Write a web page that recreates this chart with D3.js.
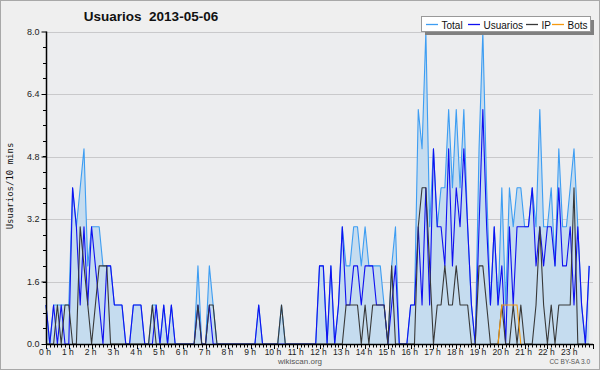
<!DOCTYPE html>
<html>
<head>
<meta charset="utf-8">
<script src="https://cdn.jsdelivr.net/npm/d3@7/dist/d3.min.js"></script>
<style>
body { margin: 0; background: #fff }
svg { display: block }
</style>
</head>
<body>
<svg id="svg" width="600" height="370"></svg>
<script>
// users per 10 minutes, 2013-05-06, one row per hour
var hourLabels = d3.range(24).map(function (h) { return h + " h" })
var yTicks = [0, 1.6, 3.2, 4.8, 6.4, 8.0]

var total = [
	1,0,1,1,1,1,  1,4,3,4,5,2,  3,3,3,2,2,2,  1,1,1,0,0,1,
	1,1,0,0,1,1,  0,1,0,1,0,0,  0,0,0,0,2,0,  0,2,1,0,0,0,
	0,0,0,0,0,0,  0,0,1,0,0,0,  0,0,1,0,0,0,  0,0,0,0,0,0,
	2,2,0,2,0,1,  3,2,2,3,3,2,  3,2,2,2,2,1,  0,2,3,0,0,0,
	1,1,6,5,8,3,  5,3,4,4,6,4,  6,4,6,3,1,0,  5,8,4,1,3,1,
	4,1,4,3,4,4,  3,3,4,3,6,3,  3,4,2,5,3,3,  4,5,3,1,0,2
]
var usuarios = [
	1,0,1,0,1,0,  0,4,3,1,3,1,  3,2,1,0,2,2,  1,1,1,0,0,1,
	1,1,0,0,0,1,  0,1,0,1,0,0,  0,0,0,0,1,0,  0,1,0,0,0,0,
	0,0,0,0,0,0,  0,0,1,0,0,0,  0,0,0,0,0,0,  0,0,0,0,0,0,
	2,2,0,2,0,1,  3,1,1,2,2,1,  2,2,2,1,1,1,  0,1,2,0,0,0,
	1,1,3,1,4,1,  5,3,3,2,5,2,  4,3,5,3,1,0,  3,6,3,1,3,1,
	2,0,3,1,3,3,  3,3,4,2,3,2,  3,3,2,4,2,2,  3,1,3,1,0,2
]
var ip = [
	0,0,0,1,0,1,  1,0,0,3,2,1,  0,1,2,2,2,0,  0,0,0,0,0,0,
	0,0,0,0,1,0,  0,0,0,0,0,0,  0,0,0,0,1,0,  0,1,1,0,0,0,
	0,0,0,0,0,0,  0,0,0,0,0,0,  0,0,1,0,0,0,  0,0,0,0,0,0,
	0,0,0,0,0,0,  0,1,1,1,1,0,  1,0,1,1,1,1,  0,2,0,0,0,0,
	0,0,3,4,4,2,  0,1,1,2,1,1,  2,1,1,1,0,0,  2,2,1,0,0,0,
	1,0,0,1,0,1,  0,0,0,1,3,1,  0,1,0,1,1,1,  1,4,0,0,0,0
]
var bots = [
	0,0,0,0,0,0,  0,0,0,0,0,0,  0,0,0,0,0,0,  0,0,0,0,0,0,
	0,0,0,0,0,0,  0,0,0,0,0,0,  0,0,0,0,0,0,  0,0,0,0,0,0,
	0,0,0,0,0,0,  0,0,0,0,0,0,  0,0,0,0,0,0,  0,0,0,0,0,0,
	0,0,0,0,0,0,  0,0,0,0,0,0,  0,0,0,0,0,0,  0,0,0,0,0,0,
	0,0,0,0,0,0,  0,0,0,0,0,0,  0,0,0,0,0,0,  0,0,0,0,0,0,
	1,1,1,1,1,0,  0,0,0,0,0,0,  0,0,0,0,0,0,  0,0,0,0,0,0
]

var series = [
	{name: "Total", values: total, color: "#3d9df2"},
	{name: "Usuarios", values: usuarios, color: "#1010f0"},
	{name: "IP", values: ip, color: "#383838"},
	{name: "Bots", values: bots, color: "#f59a10"}
]

var svg = d3.select("#svg")
var W = 600, H = 370
var pl = 46, pr = 593, pt = 31.5, pb = 344   // plot box

svg.append("rect").attr("width", W).attr("height", H).attr("fill", "#efefef")
svg.append("rect").attr("x", 0.5).attr("y", 0.5).attr("width", W - 1).attr("height", H - 1)
	.attr("fill", "none").attr("stroke", "#a8a8a8")
svg.append("rect").attr("x", pl).attr("y", pt).attr("width", pr - pl).attr("height", pb - pt)
	.attr("fill", "#ecedef")

var x = d3.scaleLinear().domain([0, 144]).range([pl, pr])
var y = d3.scaleLinear().domain([0, 8]).range([pb, pt])

// grid
svg.append("g").selectAll("line").data(yTicks.slice(1)).enter().append("line")
	.attr("x1", pl).attr("x2", pr)
	.attr("y1", function (d) { return Math.round(y(d)) + 0.5 })
	.attr("y2", function (d) { return Math.round(y(d)) + 0.5 })
	.attr("stroke", "#c9c9cb").attr("stroke-width", 1)

// total area
var area = d3.area()
	.x(function (d, i) { return x(i) })
	.y0(y(0))
	.y1(function (d) { return y(d) })
svg.append("path").datum(total).attr("d", area)
	.attr("fill", "#c5dcef")

var line = d3.line()
	.x(function (d, i) { return x(i) })
	.y(function (d) { return y(d) })

series.forEach(function (s) {
	var vals = s.values
	if (s.name == "Bots") {
		// only draw the stretch where bots appear
		var first = vals.findIndex(function (v) { return v > 0 }) - 1
		var last = vals.length - 1 - vals.slice().reverse().findIndex(function (v) { return v > 0 }) + 1
		svg.append("path").datum(vals.slice(first, last + 1))
			.attr("d", d3.line().x(function (d, i) { return x(i + first) }).y(function (d) { return y(d) }))
			.attr("fill", "none").attr("stroke", s.color).attr("stroke-width", 1.1)
		return
	}
	svg.append("path").datum(vals).attr("d", line)
		.attr("fill", "none").attr("stroke", s.color).attr("stroke-width", 1.1)
		.attr("stroke-linejoin", "round")
})

// y axis
var yAxis = d3.axisLeft(y).tickValues(yTicks).tickFormat(d3.format(".1f")).tickSize(5).tickPadding(2)
var gy = svg.append("g").attr("transform", "translate(" + (pl + 0.5) + ",0)").call(yAxis)
gy.select(".domain").remove()
gy.selectAll("text").style("font-family", "Liberation Sans").style("font-size", "9px").attr("fill", "#222")
gy.selectAll("line").attr("stroke", "#000")
svg.append("g").selectAll("line").data(d3.range(0, 8, 0.4)).enter().append("line")
	.attr("x1", pl - 3).attr("x2", pl)
	.attr("y1", function (d) { return Math.round(y(d)) + 0.5 })
	.attr("y2", function (d) { return Math.round(y(d)) + 0.5 })
	.attr("stroke", "#000")
svg.append("line").attr("x1", pl + 0.5).attr("x2", pl + 0.5).attr("y1", pt).attr("y2", pb + 1)
	.attr("stroke", "#000").attr("stroke-width", 1.5)

// x axis
svg.append("line").attr("x1", pl).attr("x2", pr).attr("y1", pb + 0.5).attr("y2", pb + 0.5)
	.attr("stroke", "#000").attr("stroke-width", 1.5)
svg.append("g").selectAll("line").data(d3.range(0, 145)).enter().append("line")
	.attr("x1", function (d) { return Math.round(x(d)) + 0.5 })
	.attr("x2", function (d) { return Math.round(x(d)) + 0.5 })
	.attr("y1", pb).attr("y2", function (d) { return pb + (d % 6 == 0 ? 5 : 3.5) })
	.attr("stroke", "#000")
svg.append("g").selectAll("text").data(hourLabels).enter().append("text")
	.attr("x", function (d, i) { return x(i * 6) - 1 })
	.attr("y", pb + 11)
	.attr("text-anchor", "middle")
	.style("font-family", "Liberation Sans").style("font-size", "8.5px").attr("fill", "#222")
	.text(function (d) { return d })

// titles
svg.append("text").attr("x", 151).attr("y", 21).attr("text-anchor", "middle")
	.style("font-family", "Liberation Sans").style("font-size", "13.5px").style("font-weight", "bold")
	.style("white-space", "pre")
	.attr("fill", "#111").text("Usuarios  2013-05-06")
svg.append("text").attr("transform", "translate(13,186) rotate(-90)").attr("text-anchor", "middle")
	.style("font-family", "DejaVu Sans Mono").style("font-size", "9px").attr("fill", "#111")
	.text("Usuarios/10 mins")
svg.append("text").attr("x", 300).attr("y", 364).attr("text-anchor", "middle")
	.style("font-family", "Liberation Sans").style("font-size", "8px").attr("fill", "#555")
	.text("wikiscan.org")
svg.append("text").attr("x", 590).attr("y", 364).attr("text-anchor", "end")
	.style("font-family", "Liberation Sans").style("font-size", "6.5px").attr("fill", "#555")
	.text("CC BY-SA 3.0")

// legend
var lg = svg.append("g")
lg.append("rect").attr("x", 425).attr("y", 20).attr("width", 169).attr("height", 15).attr("fill", "#808080")
lg.append("rect").attr("x", 421.5).attr("y", 16.5).attr("width", 169).attr("height", 15)
	.attr("fill", "#fff").attr("stroke", "#999")
var lx = [426, 468, 526, 552]
series.forEach(function (s, i) {
	lg.append("line").attr("x1", lx[i]).attr("x2", lx[i] + 12).attr("y1", 24.5).attr("y2", 24.5)
		.attr("stroke", s.color).attr("stroke-width", 1.3)
	lg.append("text").attr("x", lx[i] + 15.5).attr("y", 28.5)
		.style("font-family", "Liberation Sans").style("font-size", "10px").attr("fill", "#111")
		.text(s.name)
})
</script>
</body>
</html>
